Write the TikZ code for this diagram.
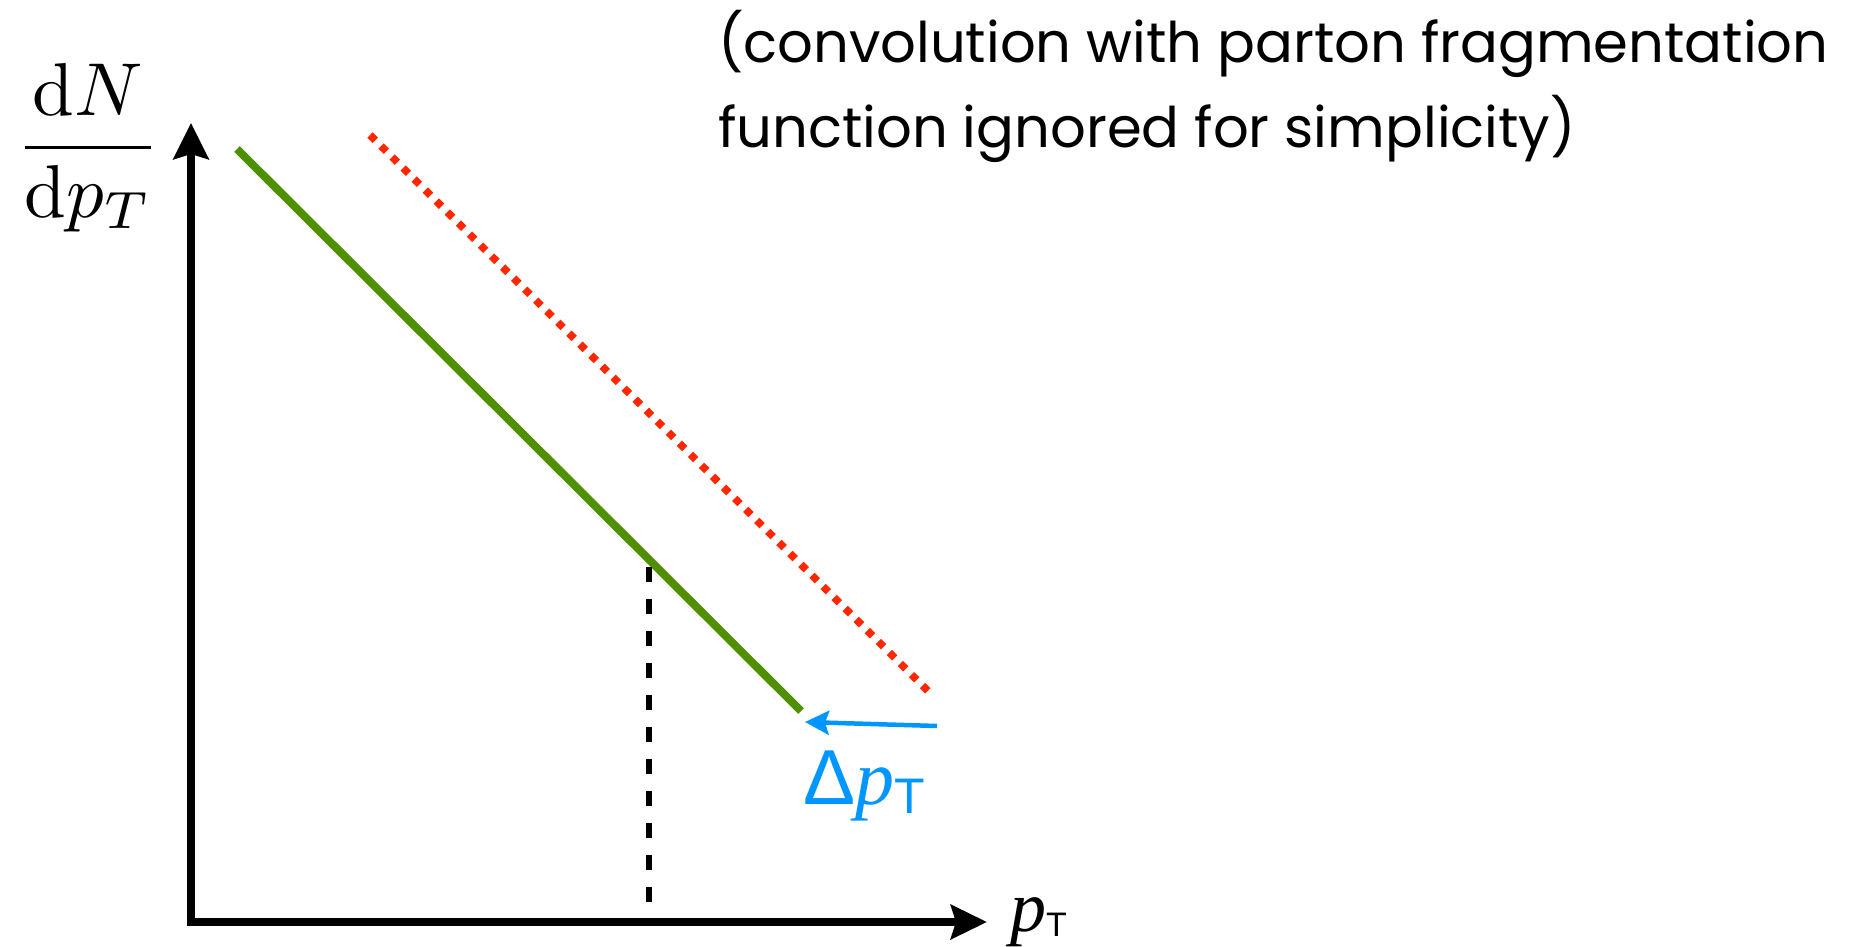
\documentclass[tikz,border=0pt]{standalone}
\usepackage{fontspec}
\usetikzlibrary{arrows.meta}
\newfontfamily\notefont{Poppins}
\newfontfamily\lsans{Liberation Sans}
\newfontfamily\lserif{Liberation Serif}
\definecolor{fern}{HTML}{4F8F00}
\definecolor{maraschino}{HTML}{FF2600}
\definecolor{aqua}{HTML}{0096FF}
\tikzset{
  axis/.style={line width=8pt, line join=miter, {Stealth[length=36pt,width=35pt,inset=5pt]}-{Stealth[length=36pt,width=34pt,inset=5pt]}},
  spectrum/.style={line width=8pt, color=fern},
  shifted/.style={line width=7.5pt, color=maraschino, dash pattern=on 7.5pt off 8.1pt},
  guide/.style={line width=6pt, dash pattern=on 15pt off 17pt},
  shiftarrow/.style={line width=4.5pt, color=aqua, -{Stealth[length=24pt,width=24pt,inset=4pt]}},
  lbl/.style={inner sep=0pt, outer sep=0pt},
}
\begin{document}
\begin{tikzpicture}[x=1pt,y=-1pt]
\useasboundingbox (0,0) rectangle (1858,947);
% axes
\coordinate (ytip) at (191,123);
\coordinate (origin) at (191,922);
\coordinate (xtip) at (987,922);
\draw[axis] (ytip) -- (origin) -- (xtip);
% curves
\coordinate (g1) at (237,149);
\coordinate (g2) at (801,711);
\draw[spectrum] (g1) -- (g2);
\coordinate (r1) at (370,135);
\coordinate (r2) at (932,695);
\draw[shifted] (r1) -- (r2);
\coordinate (d1) at (649,567);
\coordinate (d2) at (649,902);
\draw[guide] (d1) -- (d2);
\coordinate (b1) at (937,726);
\coordinate (b2) at (805,722);
\draw[shiftarrow] (b1) -- (b2);
% labels
\node[lbl, anchor=base] (ylab) at (88,166) {\scalebox{7.5}{$\displaystyle\frac{\mathrm{d}N}{\mathrm{d}p_T}$}};
\node[lbl, anchor=base west] (xlab) at (1010,931) {\fontsize{72}{72}\selectfont{\lserif\itshape p}\raisebox{-5pt}{\fontsize{34}{34}\selectfont\lsans T}};
\node[lbl, anchor=base west] (dlab) at (803,804) {\color{aqua}\fontsize{78}{78}\selectfont{\lsans Δ}{\lserif\itshape p}\raisebox{-9pt}{\fontsize{50}{50}\selectfont\lsans T}};
\node[lbl, anchor=base west] (note1) at (718,63) {\fontsize{56}{56}\selectfont\notefont (convolution with parton fragmentation};
\node[lbl, anchor=base west] (note2) at (718,147) {\fontsize{56}{56}\selectfont\notefont function ignored for simplicity)};
\end{tikzpicture}
\end{document}
